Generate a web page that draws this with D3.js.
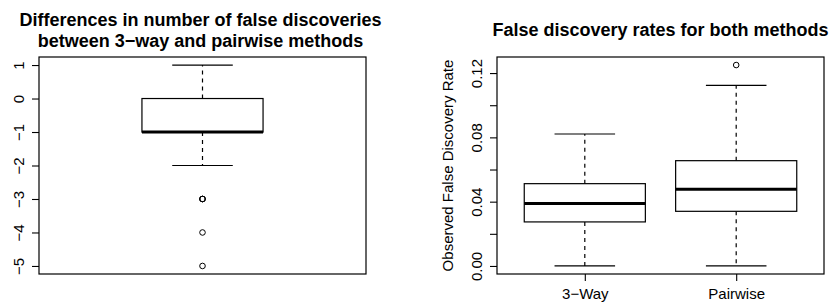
<!DOCTYPE html>
<html>
<head>
<meta charset="utf-8">
<script src="https://cdn.jsdelivr.net/npm/d3@7"></script>
<style>
  html, body { margin: 0; padding: 0; background: #fff; }
  svg { display: block; font-family: "Liberation Sans", Arial, Helvetica, sans-serif; }
</style>
</head>
<body>
<svg id="chart" width="832" height="302"></svg>
<script>
// ---- Data ----
// Left panel: differences in number of false discoveries (3-way minus pairwise)
const diffTitle = ["Differences in number of false discoveries", "between 3\u2212way and pairwise methods"];
const diffStats = [-2, -1, -1, 0, 1];          // lower whisker, Q1, median, Q3, upper whisker
const diffOutliers = [-3, -3, -3, -4, -5];
const diffTicks = [1, 0, -1, -2, -3, -4, -5];
const diffTickLabels = ["1", "0", "\u22121", "\u22122", "\u22123", "\u22124", "\u22125"];

// Right panel: false discovery rates
const fdrTitle = "False discovery rates for both methods";
const fdrYLabel = "Observed False Discovery Rate";
const fdrCategories = ["3\u2212Way", "Pairwise"];
const fdrStats = [
  [0.000, 0.0274, 0.0388, 0.0512, 0.0821],
  [0.000, 0.0340, 0.0477, 0.0655, 0.1124]
];
const fdrOutliers = [[], [0.125]];
const fdrTicks = [0.00, 0.02, 0.04, 0.06, 0.08, 0.10, 0.12];
const fdrTickLabels = ["0.00", "", "0.04", "", "0.08", "", "0.12"];

// ---- Drawing ----
const svg = d3.select("#chart");
const plotTop = 57, plotBottom = 274;
const fontSize = 15, titleSize = 18;
const dash = "4,4";

function drawBox(g, x, y, stats, outliers, boxW, capW) {
  const [lo, q1, med, q3, hi] = stats;
  const cx = x;
  // whiskers (dashed)
  g.append("line").attr("x1", cx).attr("x2", cx).attr("y1", y(q3)).attr("y2", y(hi))
    .attr("stroke", "#000").attr("stroke-width", 1.2).attr("stroke-dasharray", dash);
  g.append("line").attr("x1", cx).attr("x2", cx).attr("y1", y(q1)).attr("y2", y(lo))
    .attr("stroke", "#000").attr("stroke-width", 1.2).attr("stroke-dasharray", dash);
  // caps
  [lo, hi].forEach(v => {
    g.append("line").attr("x1", cx - capW / 2).attr("x2", cx + capW / 2)
      .attr("y1", y(v)).attr("y2", y(v))
      .attr("stroke", "#000").attr("stroke-width", 1.2);
  });
  // box
  g.append("rect").attr("x", cx - boxW / 2).attr("y", y(q3))
    .attr("width", boxW).attr("height", y(q1) - y(q3))
    .attr("fill", "#fff").attr("stroke", "#000").attr("stroke-width", 1.2);
  // median
  g.append("line").attr("x1", cx - boxW / 2).attr("x2", cx + boxW / 2)
    .attr("y1", y(med)).attr("y2", y(med))
    .attr("stroke", "#000").attr("stroke-width", 3);
  // outliers
  g.selectAll(null).data(outliers).enter().append("circle")
    .attr("cx", cx).attr("cy", d => y(d)).attr("r", 2.8)
    .attr("fill", "none").attr("stroke", "#000").attr("stroke-width", 1);
}

function styleYAxis(gAxis, offset) {
  gAxis.select(".domain").remove();
  gAxis.selectAll(".tick line").attr("stroke", "#000").attr("stroke-width", 1.1);
  gAxis.selectAll(".tick text")
    .attr("x", null).attr("dy", null).attr("y", null)
    .attr("text-anchor", "middle")
    .attr("transform", `translate(${offset},0) rotate(-90)`)
    .attr("fill", "#000")
    .style("font-size", fontSize + "px");
}

// ---------- Left panel ----------
{
  const left = 39, right = 366;
  const x = d3.scaleLinear().domain([0.46, 1.54]).range([left, right]);
  const y = d3.scaleLinear().domain([-5.24, 1.24]).range([plotBottom, plotTop]);
  const g = svg.append("g");

  const t = g.append("text").attr("text-anchor", "middle")
    .attr("font-weight", "bold").style("font-size", titleSize + "px");
  t.append("tspan").attr("x", (left + right) / 2 - 2).attr("y", 25.5).text(diffTitle[0]);
  t.append("tspan").attr("x", (left + right) / 2 - 2).attr("y", 47).text(diffTitle[1]);

  const ax = g.append("g").attr("transform", `translate(${left},0)`)
    .call(d3.axisLeft(y).tickValues(diffTicks).tickSize(7).tickPadding(0)
      .tickFormat((d, i) => diffTickLabels[i]));
  styleYAxis(ax, -15);

  drawBox(g, x(1), y, diffStats, diffOutliers, x(1.2) - x(0.8), x(1.1) - x(0.9));

  g.append("rect").attr("x", left).attr("y", plotTop)
    .attr("width", right - left).attr("height", plotBottom - plotTop)
    .attr("fill", "none").attr("stroke", "#000").attr("stroke-width", 1.2);
}

// ---------- Right panel ----------
{
  const left = 497, right = 824;
  const x = d3.scaleLinear().domain([0.42, 2.58]).range([left, right]);
  const y = d3.scaleLinear().domain([-0.005, 0.13]).range([plotBottom, plotTop]);
  const g = svg.append("g");

  g.append("text").attr("x", (left + right) / 2).attr("y", 36)
    .attr("text-anchor", "middle").attr("font-weight", "bold")
    .style("font-size", titleSize + "px").text(fdrTitle);

  const ax = g.append("g").attr("transform", `translate(${left},0)`)
    .call(d3.axisLeft(y).tickValues(fdrTicks).tickSize(7).tickPadding(0)
      .tickFormat((d, i) => fdrTickLabels[i]));
  styleYAxis(ax, -15);

  g.append("text")
    .attr("transform", `translate(453,${(plotTop + plotBottom) / 2}) rotate(-90)`)
    .attr("text-anchor", "middle").style("font-size", fontSize + "px")
    .text(fdrYLabel);

  const xa = g.append("g").attr("transform", `translate(0,${plotBottom})`)
    .call(d3.axisBottom(x).tickValues(fdrCategories.map((c, i) => i + 1))
      .tickSize(7).tickPadding(6).tickFormat((d, i) => fdrCategories[i]));
  xa.select(".domain").remove();
  xa.selectAll(".tick line").attr("stroke", "#000").attr("stroke-width", 1.1);
  xa.selectAll(".tick text").attr("dy", null).attr("y", 25)
    .attr("fill", "#000").style("font-size", fontSize + "px");

  fdrStats.forEach((s, i) => {
    drawBox(g, x(i + 1), y, s, fdrOutliers[i], x(1.4) - x(0.6), x(1.2) - x(0.8));
  });

  g.append("rect").attr("x", left).attr("y", plotTop)
    .attr("width", right - left).attr("height", plotBottom - plotTop)
    .attr("fill", "none").attr("stroke", "#000").attr("stroke-width", 1.2);
}
</script>
</body>
</html>
